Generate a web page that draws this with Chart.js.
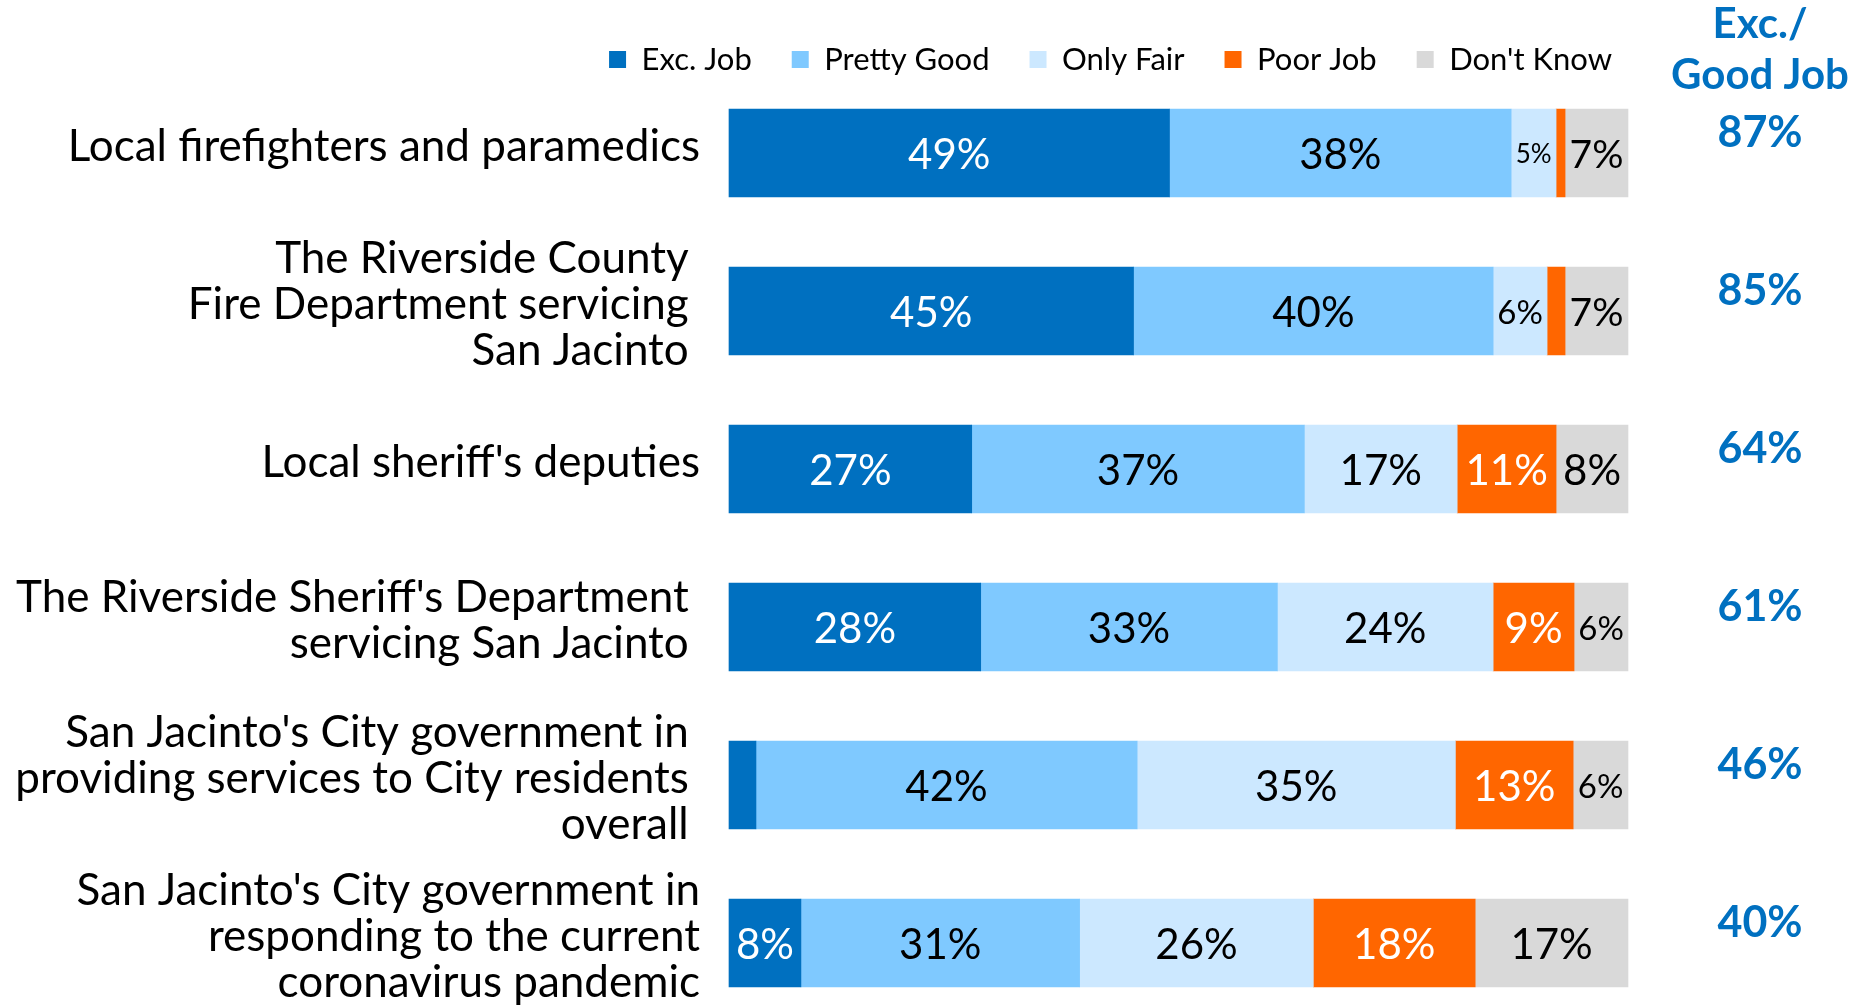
<!DOCTYPE html>
<html>
<head>
<meta charset="utf-8">
<script src="https://cdn.jsdelivr.net/npm/chart.js@4.4.1/dist/chart.umd.min.js"></script>
<style>
  html, body { margin: 0; padding: 0; background: #fff; overflow: hidden; }
  #wrap { width: 1862px; height: 1005px; }
</style>
</head>
<body>
<div id="wrap"><canvas id="myChart"></canvas></div>
<script>
const categories = [
  "Local firefighters and paramedics",
  ["The Riverside County ", "Fire Department servicing ", "San Jacinto "],
  "Local sheriff's deputies",
  ["The Riverside Sheriff's Department ", "servicing San Jacinto "],
  ["San Jacinto's City government in ", "providing services to City residents ", "overall "],
  ["San Jacinto's City government in", "responding to the current", "coronavirus pandemic"]
];
const excJob = [49, 45, 27, 28, 3, 8];
const prettyGood = [38, 40, 37, 33, 42.4, 31];
const onlyFair = [5, 6, 17, 24, 35.4, 26];
const poorJob = [1, 2, 11, 9, 13.1, 18];
const dontKnow = [7, 7, 8, 6, 6.1, 17];
// Exc./Good Job column
const goodTotals = [87, 85, 64, 61, 46, 40];

const FONT = "Lato";

const makeSet = (label, data, color, labelColor) => ({
  label: label,
  data: data,
  backgroundColor: color,
  borderWidth: 0,
  barThickness: 88,
  clip: false,
  labelColor: labelColor,
});

// percent labels inside the bars + the right hand column
const barLabels = {
  id: "barLabels",
  afterDatasetsDraw(chart) {
    const ctx = chart.ctx;
    ctx.save();
    ctx.textAlign = "center";
    ctx.textBaseline = "middle";
    chart.data.datasets.forEach((ds, di) => {
      const meta = chart.getDatasetMeta(di);
      meta.data.forEach((bar, i) => {
        const v = ds.data[i];
        if (v < 4) return;
        const txt = Math.round(v) + "%";
        const w = Math.abs(bar.x - bar.base);
        let size = 42;
        ctx.font = size + "px " + FONT;
        const tw = ctx.measureText(txt).width;
        if (tw > w - 8) size = Math.floor((size * (w - 8)) / tw);
        ctx.font = size + "px " + FONT;
        ctx.fillStyle = ds.labelColor;
        ctx.fillText(txt, (bar.x + bar.base) / 2, bar.y + 2);
      });
    });

    const cx = chart.chartArea.right + 132;
    ctx.fillStyle = "#0070C0";
    ctx.font = "bold 42px " + FONT;
    ctx.fillText("Exc./", cx, 24);
    ctx.fillText("Good Job", cx, 75);
    ctx.font = "bold 43px " + FONT;
    goodTotals.forEach((t, i) => {
      ctx.fillText(t + "%", cx, chart.scales.y.getPixelForValue(i) - 20);
    });
    ctx.restore();
  },
};

const config = {
  type: "bar",
  data: {
    labels: categories,
    datasets: [
      makeSet("Exc. Job", excJob, "#0070C0", "#fff"),
      makeSet("Pretty Good", prettyGood, "#7FC9FF", "#000"),
      makeSet("Only Fair", onlyFair, "#CCE8FF", "#000"),
      makeSet("Poor Job", poorJob, "#FF6600", "#fff"),
      makeSet("Don't Know", dontKnow, "#D9D9D9", "#000"),
    ],
  },
  options: {
    indexAxis: "y",
    responsive: true,
    maintainAspectRatio: false,
    animation: false,
    layout: {
      padding: { top: 4, right: 210, bottom: 62, left: 0 },
    },
    plugins: {
      tooltip: { enabled: false },
      legend: {
        position: "top",
        align: "end",
        labels: {
          boxWidth: 17,
          boxHeight: 17,
          padding: 40,
          color: "#000",
          font: { family: FONT, size: 31 },
        },
      },
    },
    scales: {
      x: {
        stacked: true,
        min: 0,
        max: 100,
        position: "top",
        grid: { display: false },
        border: { display: false },
        ticks: { display: false },
        // spacer between legend and bars
        afterFit: (s) => {
          s.height = 68;
          s.paddingLeft = 0;
          s.paddingRight = 0;
        },
      },
      y: {
        stacked: true,
        offset: false,
        grid: { display: false },
        border: { display: false },
        ticks: {
          color: "#000",
          autoSkip: false,
          padding: 21,
          labelOffset: -6,
          font: { family: FONT, size: 44, lineHeight: 1.05 },
        },
        afterFit: (s) => {
          s.width = 729;
          s.paddingTop = 0;
          s.paddingBottom = 0;
        },
      },
      // empty right-hand spacer so the legend ends where it does in the original
      yRight: {
        type: "category",
        position: "right",
        offset: false,
        grid: { display: false },
        border: { display: false },
        ticks: { display: false },
        afterFit: (s) => {
          s.width = 24;
          s.paddingTop = 0;
          s.paddingBottom = 0;
        },
      },
    },
  },
  plugins: [barLabels],
};

const myChart = new Chart(document.getElementById("myChart"), config);
</script>
</body>
</html>
